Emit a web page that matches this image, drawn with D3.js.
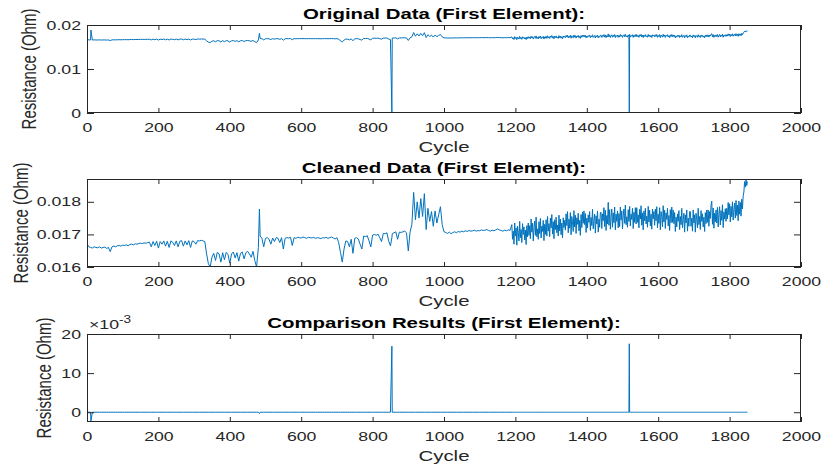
<!DOCTYPE html>
<html>
<head>
<meta charset="utf-8">
<script src="https://cdn.jsdelivr.net/npm/d3@7"></script>
<style>
  html, body { margin: 0; padding: 0; background: #fff; }
  svg { display: block; font-family: "Liberation Sans", Arial, Helvetica, sans-serif; }
</style>
</head>
<body>
<script>
// cleaned resistance in milliohm (x 1e-3 Ohm)
// part A: cycles 0..1185, every 5 cycles, one row = 50 cycles
const calmStart = 0;
const calmStep = 5;
const calmRes = [
  16.72, 16.62, 16.60, 16.58, 16.62, 16.60, 16.59, 16.62, 16.58, 16.60, // 0
  16.61, 16.57, 16.60, 16.47, 16.62, 16.64, 16.62, 16.65, 16.66, 16.64, // 50
  16.67, 16.66, 16.68, 16.65, 16.69, 16.70, 16.68, 16.71, 16.70, 16.72, // 100
  16.73, 16.72, 16.74, 16.73, 16.75, 16.76, 16.62, 16.78, 16.66, 16.79, // 150
  16.58, 16.78, 16.70, 16.80, 16.64, 16.79, 16.60, 16.80, 16.76, 16.66, // 200
  16.80, 16.62, 16.79, 16.81, 16.64, 16.80, 16.68, 16.81, 16.60, 16.80, // 250
  16.78, 16.70, 16.81, 16.80, 16.82, 16.80, 16.78, 16.40, 16.10, 16.00, // 300
  16.30, 16.42, 16.20, 16.45, 16.40, 16.15, 16.44, 16.22, 16.45, 16.38, // 350
  16.12, 16.40, 16.46, 16.28, 16.44, 16.18, 16.42, 16.46, 16.25, 16.44, // 400
  16.48, 16.40, 16.30, 16.48, 16.20, 16.00, 16.60, 16.95, 16.88, 16.62, // 450
  16.88, 16.90, 16.85, 16.70, 16.89, 16.78, 16.90, 16.88, 16.75, 16.90, // 500
  16.55, 16.88, 16.90, 16.89, 16.91, 16.66, 16.90, 16.88, 16.91, 16.90, // 550
  16.89, 16.92, 16.90, 16.88, 16.91, 16.90, 16.89, 16.91, 16.88, 16.90, // 600
  16.89, 16.87, 16.90, 16.89, 16.91, 16.88, 16.90, 16.92, 16.89, 16.86, // 650
  16.90, 16.75, 16.45, 16.15, 16.55, 16.80, 16.78, 16.62, 16.85, 16.42, // 700
  16.88, 16.90, 16.86, 16.70, 16.55, 16.95, 16.93, 16.96, 16.80, 16.62, // 750
  16.98, 17.00, 16.97, 17.01, 16.90, 16.78, 17.03, 17.02, 17.05, 16.80, // 800
  16.65, 17.02, 17.05, 17.08, 16.85, 17.07, 17.06, 17.08, 17.10, 17.05, // 850
  16.49, 17.08, 17.30, 18.29, 17.45, 18.00, 17.50, 18.10, 17.55, 18.25, // 900
  17.15, 17.80, 17.40, 17.70, 17.25, 17.72, 17.35, 17.60, 17.85, 17.30, // 950
  17.08, 17.06, 17.03, 17.07, 17.02, 17.06, 17.08, 17.05, 17.09, 17.07, // 1000
  17.10, 17.08, 17.11, 17.09, 17.12, 17.10, 17.11, 17.13, 17.10, 17.12, // 1050
  17.11, 17.14, 17.12, 17.13, 17.15, 17.12, 17.10, 17.13, 17.11, 17.14, // 1100
  17.17, 17.14, 17.12, 17.10, 17.13, 17.11, 17.14, 17.12                // 1150
];

// part B: noisy stretch, cycles 1190..1850, every 2 cycles, one row = 50 cycles
const noisyStart = 1190;
const noisyStep = 2;
const noisyRes = [
  17.30, 16.85, 17.10, 16.70, 17.35, 16.95, 17.20, 16.67, 17.25, 17.05, 16.80, 17.40, 16.90, 17.15, 16.75, 17.33, 17.00, 17.23, 16.83, 17.13, 16.69, 17.27, 16.93, 17.35, 16.97, // 1190
  17.27, 16.87, 17.47, 17.07, 17.35, 16.80, 17.20, 17.41, 16.97, 17.53, 16.93, 17.17, 16.85, 17.39, 17.03, 17.49, 16.89, 17.25, 17.09, 17.43, 16.81, 17.31, 17.00, 17.45, 16.95, // 1240
  17.55, 17.10, 17.33, 16.93, 17.50, 17.20, 17.61, 17.01, 17.39, 16.87, 17.45, 17.15, 17.53, 17.05, 17.29, 16.95, 17.59, 17.11, 17.47, 16.99, 17.35, 16.89, 17.51, 17.21, 17.43, // 1290
  17.13, 17.63, 17.27, 17.70, 17.05, 17.47, 17.19, 17.67, 16.99, 17.55, 17.39, 17.09, 17.73, 17.23, 17.59, 17.03, 17.51, 17.31, 17.65, 17.11, 17.43, 16.97, 17.61, 17.21, 17.69, // 1340
  17.34, 17.72, 17.30, 17.64, 17.06, 17.50, 17.20, 17.60, 17.37, 17.70, 17.12, 17.52, 17.27, 17.77, 17.17, 17.42, 17.62, 17.04, 17.57, 17.32, 17.72, 17.07, 17.47, 17.22, 17.67, // 1390
  17.68, 17.18, 17.63, 17.42, 17.82, 17.24, 17.74, 17.12, 17.58, 17.32, 17.98, 17.28, 17.76, 17.16, 17.54, 17.78, 17.22, 17.66, 17.36, 17.84, 17.14, 17.62, 17.40, 17.72, 17.20, // 1440
  17.64, 17.24, 17.84, 17.44, 17.72, 17.17, 17.57, 17.78, 17.34, 17.90, 17.30, 17.54, 17.22, 17.76, 17.40, 17.86, 17.26, 17.62, 17.46, 17.80, 17.18, 17.68, 17.37, 17.82, 17.32, // 1490
  17.82, 17.37, 17.60, 17.20, 17.77, 17.47, 17.88, 17.28, 17.66, 17.14, 17.72, 17.42, 17.80, 17.32, 17.56, 17.22, 17.86, 17.38, 17.74, 17.26, 17.62, 17.16, 17.78, 17.48, 17.70, // 1540
  17.28, 17.78, 17.42, 17.85, 17.20, 17.62, 17.34, 17.82, 17.14, 17.70, 17.54, 17.24, 17.88, 17.38, 17.74, 17.18, 17.66, 17.46, 17.80, 17.26, 17.58, 17.12, 17.76, 17.36, 17.84, // 1590
  17.37, 17.75, 17.33, 17.67, 17.09, 17.53, 17.23, 17.63, 17.40, 17.73, 17.15, 17.55, 17.30, 17.80, 17.20, 17.45, 17.65, 17.07, 17.60, 17.35, 17.75, 17.10, 17.50, 17.25, 17.70, // 1640
  17.70, 17.25, 17.50, 17.10, 17.75, 17.35, 17.60, 17.07, 17.65, 17.45, 17.20, 17.80, 17.30, 17.55, 17.15, 17.73, 17.40, 17.63, 17.23, 17.53, 17.09, 17.67, 17.33, 17.75, 17.37, // 1690
  17.75, 17.25, 17.70, 17.49, 17.89, 18.02, 17.31, 17.81, 17.19, 17.65, 17.39, 17.75, 17.35, 17.83, 17.23, 17.61, 17.85, 17.29, 17.73, 17.43, 17.91, 17.21, 17.69, 17.47, 17.79, // 1740
  17.40, 17.80, 17.48, 17.98, 17.60, 17.94, 17.38, 17.86, 17.54, 18.00, 17.44, 17.76, 17.96, 17.50, 18.04, 17.58, 17.90, 17.42, 18.02, 17.62, 17.98, 17.56, 18.08, 17.78, 18.18, // 1790
  18.30, 18.62, 18.45, 18.70, 18.50, 18.62                                                                                                                                     // 1840
];

// samples that the cleaning replaced: cycle, raw value, cleaned value (milliohm)
const outlierCycles = [11, 483, 854, 1519];
const outlierRaw = [18.86, 18.10, 0, 0];
const outlierClean = [16.60, 17.78, 16.90, 17.50];

const xTicks = [0, 200, 400, 600, 800, 1000, 1200, 1400, 1600, 1800, 2000];

const panels = [
  { title: "Original Data (First Element):", top: 25, bottom: 113, labelX: 36,
    domain: [0, 0.02], ticks: [0, 0.01, 0.02], fmt: d => d === 0 ? "0" : d3.format(".2f")(d) },
  { title: "Cleaned Data (First Element):", top: 179, bottom: 267, labelX: 28,
    domain: [0.016, 0.0187], ticks: [0.016, 0.017, 0.018], fmt: d3.format(".3f") },
  { title: "Comparison Results (First Element):", top: 334, bottom: 422, labelX: 51,
    domain: [-0.0025, 0.02], ticks: [0, 0.01, 0.02], fmt: d => String(Math.round(d * 1000)), exponent: true }
];

const W = 829, H = 468;
const left = 87, right = 801;
const ink = "#262626";
const lineColor = "#0072BD";
const sx = 1.36; // the figure text is drawn horizontally stretched

const svg = d3.select("body").append("svg")
  .attr("width", W)
  .attr("height", H)
  .attr("viewBox", `0 0 ${W} ${H}`);

// merge samples and replaced points
const points = calmRes.map((v, i) => ({ c: calmStart + i * calmStep, clean: v, raw: v }))
  .concat(noisyRes.map((v, i) => ({ c: noisyStart + i * noisyStep, clean: v, raw: v })))
  .concat(outlierCycles.map((c, i) => ({ c: c, clean: outlierClean[i], raw: outlierRaw[i] })))
  .sort((a, b) => a.c - b.c);

const series = [
  points.map(d => ({ c: d.c, v: d.raw / 1000 })),
  points.map(d => ({ c: d.c, v: d.clean / 1000 })),
  points.map(d => ({ c: d.c, v: (d.clean - d.raw) / 1000 }))
];

const x = d3.scaleLinear().domain([0, 2000]).range([left, right]);

function label(parent, px, py, str, opts) {
  const t = parent.append("text")
    .attr("transform", `translate(${px},${py}) scale(${sx},1)` + (opts.rotate ? " rotate(-90)" : ""))
    .attr("text-anchor", opts.anchor || "middle")
    .attr("font-size", opts.size || 15)
    .attr("font-weight", opts.bold ? "bold" : null)
    .attr("fill", opts.fill || ink)
    .text(str);
  return t;
}

panels.forEach((p, idx) => {
  const y = d3.scaleLinear().domain(p.domain).range([p.bottom, p.top]);
  const g = svg.append("g");

  g.append("clipPath").attr("id", "clip" + idx)
    .append("rect")
    .attr("x", left).attr("y", p.top)
    .attr("width", right - left).attr("height", p.bottom - p.top);

  // data line
  const line = d3.line().x(d => x(d.c)).y(d => y(d.v));
  g.append("path")
    .datum(series[idx])
    .attr("clip-path", `url(#clip${idx})`)
    .attr("d", line)
    .attr("fill", "none")
    .attr("stroke", lineColor)
    .attr("stroke-width", 1)
    .attr("stroke-linejoin", "round");

  // bottom axis (ticks pointing inward)
  const xAxis = g.append("g")
    .attr("transform", `translate(0,${p.bottom})`)
    .call(d3.axisBottom(x).tickValues(xTicks).tickSize(-5).tickPadding(10).tickFormat(d3.format("d")));
  xAxis.select(".domain").remove();
  xAxis.selectAll("line").attr("stroke", ink);
  xAxis.selectAll("text").attr("fill", ink).attr("font-size", 13).attr("font-family", null)
    .attr("transform", `scale(${sx},1)`);

  // top ticks mirrored
  const xTop = g.append("g")
    .attr("transform", `translate(0,${p.top})`)
    .call(d3.axisTop(x).tickValues(xTicks).tickSize(-5).tickFormat(""));
  xTop.select(".domain").remove();
  xTop.selectAll("line").attr("stroke", ink);

  // left axis
  const yAxis = g.append("g")
    .attr("transform", `translate(${left},0)`)
    .call(d3.axisLeft(y).tickValues(p.ticks).tickSize(-7).tickFormat(p.fmt));
  yAxis.select(".domain").remove();
  yAxis.selectAll("line").attr("stroke", ink);
  yAxis.selectAll("text").attr("fill", ink).attr("font-size", 13).attr("font-family", null)
    .attr("x", -6 / sx)
    .attr("transform", `scale(${sx},1)`);

  const yRight = g.append("g")
    .attr("transform", `translate(${right},0)`)
    .call(d3.axisRight(y).tickValues(p.ticks).tickSize(-7).tickFormat(""));
  yRight.select(".domain").remove();
  yRight.selectAll("line").attr("stroke", ink);

  // box
  g.append("rect")
    .attr("x", left + 0.5).attr("y", p.top + 0.5)
    .attr("width", right - left - 1).attr("height", p.bottom - p.top - 1)
    .attr("fill", "none")
    .attr("stroke", ink)
    .attr("stroke-width", 1);

  label(g, (left + right) / 2, p.top - 6, p.title, { bold: true, fill: "#000" });
  label(g, (left + right) / 2, p.bottom + 39, "Cycle", {});
  label(g, p.labelX, (p.top + p.bottom) / 2, "Resistance (Ohm)", { rotate: true });

  if (p.exponent) {
    const t = g.append("text")
      .attr("transform", `translate(${left + 2},${p.top - 5}) scale(${sx},1)`)
      .attr("font-size", 13)
      .attr("fill", ink);
    t.append("tspan").text("\u00d710");
    t.append("tspan").attr("dy", -6).attr("font-size", 10).text("-3");
  }
});
</script>
</body>
</html>
